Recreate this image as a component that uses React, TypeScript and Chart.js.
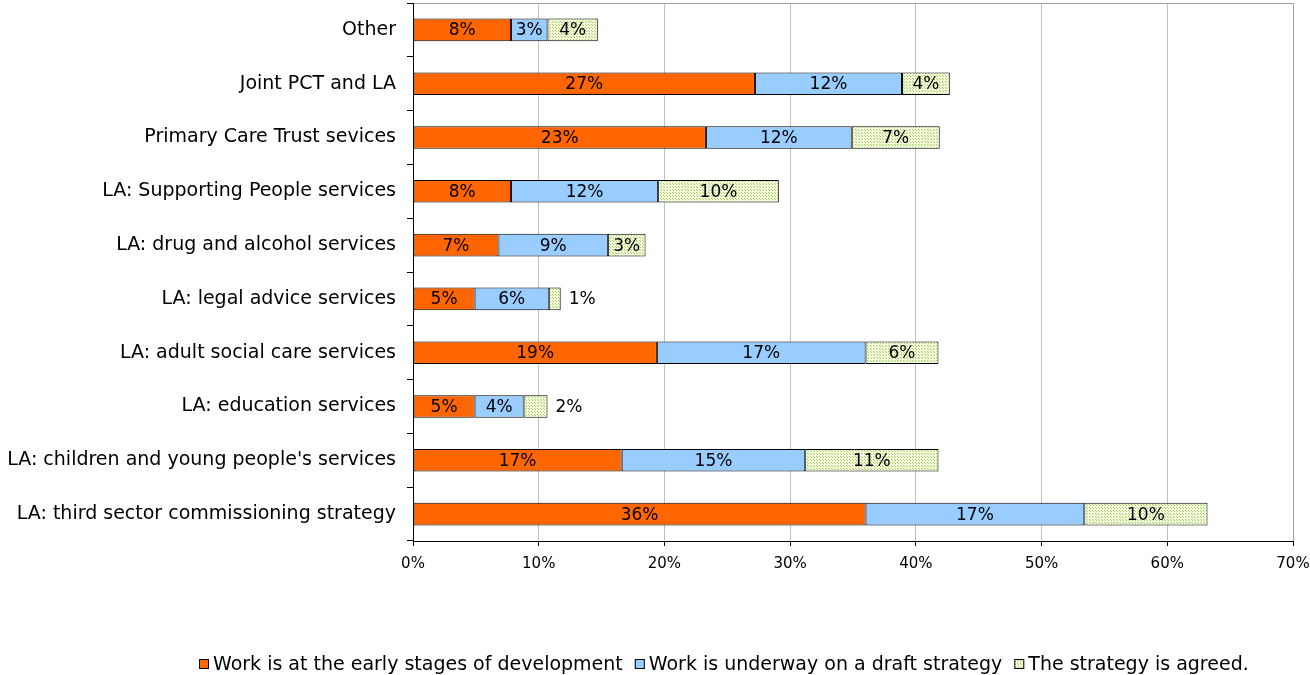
import React, { useEffect, useRef } from 'react';
import { Chart, registerables } from 'chart.js';

Chart.register(...registerables);

const categories = [
  'Other',
  'Joint PCT and LA',
  'Primary Care Trust sevices',
  'LA: Supporting People services',
  'LA: drug and alcohol services',
  'LA: legal advice services',
  'LA: adult social care services',
  'LA: education services',
  "LA: children and young people's services",
  'LA: third sector commissioning strategy',
];

const earlyStage = [7.8, 27.2, 23.3, 7.8, 6.8, 4.9, 19.4, 4.9, 16.6, 36.0];
const draftStrategy = [2.9, 11.7, 11.6, 11.7, 8.7, 5.9, 16.6, 3.9, 14.6, 17.4];
const agreed = [4.0, 3.8, 7.0, 9.6, 3.0, 0.95, 5.8, 1.9, 10.6, 9.8];

const seriesNames = [
  'Work is at the early stages of development',
  'Work is underway on a draft strategy',
  'The strategy is agreed.',
];

const xMin = 0;
const xMax = 70;
const xStep = 10;

const FONT = "'DejaVu Sans', sans-serif";

function makePattern(): CanvasPattern | string {
  const c = document.createElement('canvas');
  c.width = 3;
  c.height = 3;
  const g = c.getContext('2d');
  if (!g) return '#e8f4c8';
  g.fillStyle = '#f4fae0';
  g.fillRect(0, 0, 3, 3);
  g.fillStyle = '#a6d05c';
  g.fillRect(0, 0, 1, 1);
  g.fillRect(1, 1, 1, 1);
  const p = g.createPattern(c, 'repeat');
  return p || '#e8f4c8';
}

const framePlugin = {
  id: 'frame',
  beforeDatasetsDraw(chart: any) {
    const { ctx, chartArea } = chart;
    ctx.save();
    ctx.strokeStyle = '#a0a0a0';
    ctx.lineWidth = 1;
    ctx.beginPath();
    ctx.moveTo(Math.round(chartArea.left), Math.round(chartArea.top) + 0.5);
    ctx.lineTo(Math.round(chartArea.right) + 0.5, Math.round(chartArea.top) + 0.5);
    ctx.lineTo(Math.round(chartArea.right) + 0.5, Math.round(chartArea.bottom));
    ctx.stroke();
    ctx.strokeStyle = '#000';
    ctx.beginPath();
    ctx.moveTo(Math.round(chartArea.left) + 0.5, Math.round(chartArea.top));
    ctx.lineTo(Math.round(chartArea.left) + 0.5, Math.round(chartArea.bottom) + 0.5);
    ctx.lineTo(Math.round(chartArea.right) + 1, Math.round(chartArea.bottom) + 0.5);
    ctx.stroke();
    ctx.restore();
  },
};

const labelPlugin = {
  id: 'barLabels',
  afterDatasetsDraw(chart: any) {
    const { ctx } = chart;
    ctx.save();
    ctx.font = `17px ${FONT}`;
    ctx.fillStyle = '#000';
    ctx.textBaseline = 'middle';
    chart.data.datasets.forEach((ds: any, di: number) => {
      const meta = chart.getDatasetMeta(di);
      meta.data.forEach((bar: any, i: number) => {
        const v = ds.data[i];
        const text = `${Math.round(v)}%`;
        const w = bar.x - bar.base;
        const tw = ctx.measureText(text).width;
        if (tw + 4 <= w) {
          ctx.textAlign = 'center';
          ctx.fillText(text, (bar.x + bar.base) / 2, bar.y + 1);
        } else {
          ctx.textAlign = 'left';
          ctx.fillText(text, bar.x + 8, bar.y + 1);
        }
      });
    });
    ctx.restore();
  },
};

const legendPlugin = {
  id: 'customLegend',
  afterDraw(chart: any) {
    const { ctx } = chart;
    ctx.save();
    ctx.font = `19px ${FONT}`;
    ctx.textBaseline = 'middle';
    ctx.textAlign = 'left';
    const box = 10;
    const gapText = 4;
    const gapItem = 12;
    const items = chart.data.datasets.map((ds: any) => ({
      label: ds.label,
      color: ds.backgroundColor,
      w: ctx.measureText(ds.label).width,
    }));
    const total = items.reduce((s: number, it: any) => s + box + gapText + it.w, 0) + gapItem * (items.length - 1);
    const centerX = 724;
    const cy = 664;
    let x = Math.round(centerX - total / 2);
    items.forEach((it: any) => {
      ctx.fillStyle = it.color;
      ctx.fillRect(x, cy - box / 2, box, box);
      ctx.strokeStyle = '#000';
      ctx.lineWidth = 1;
      ctx.strokeRect(x + 0.5, cy - box / 2 + 0.5, box - 1, box - 1);
      ctx.fillStyle = '#000';
      ctx.fillText(it.label, x + box + gapText, cy + 1);
      x += box + gapText + it.w + gapItem;
    });
    ctx.restore();
  },
};

export default function App() {
  const ref = useRef<HTMLCanvasElement | null>(null);

  useEffect(() => {
    if (!ref.current) return;
    const pattern = makePattern();
    const common = {
      borderColor: '#000',
      borderWidth: 1,
      borderSkipped: false,
      barPercentage: 0.84,
      categoryPercentage: 0.5,
    };
    const chart = new Chart(ref.current, {
      type: 'bar',
      data: {
        labels: categories,
        datasets: [
          { label: seriesNames[0], data: earlyStage, backgroundColor: '#ff6600', ...common },
          { label: seriesNames[1], data: draftStrategy, backgroundColor: '#99ccff', ...common },
          { label: seriesNames[2], data: agreed, backgroundColor: pattern as any, ...common },
        ],
      },
      options: {
        indexAxis: 'y',
        responsive: false,
        animation: false,
        layout: { padding: { top: 3, right: 17, left: 0, bottom: 0 } },
        plugins: {
          legend: { display: false },
          tooltip: { enabled: false },
        },
        scales: {
          x: {
            stacked: true,
            min: xMin,
            max: xMax,
            ticks: {
              stepSize: xStep,
              callback: (v: any) => `${v}%`,
              color: '#000',
              font: { family: FONT, size: 15 },
              padding: 9,
              maxRotation: 0,
            },
            grid: {
              color: '#c0c0c0',
              tickColor: '#000',
              tickLength: 5,
              lineWidth: 1,
            },
            border: { display: true, color: '#000', width: 1 },
            afterFit: (scale: any) => {
              scale.height = 134;
              scale.paddingLeft = 0;
              scale.paddingRight = 0;
            },
          },
          y: {
            stacked: true,
            ticks: {
              color: '#000',
              font: { family: FONT, size: 19 },
              padding: 11,
              autoSkip: false,
            },
            grid: {
              drawOnChartArea: false,
              drawTicks: true,
              tickLength: 6,
              tickColor: '#000',
              offset: true,
            },
            border: { display: true, color: '#000', width: 1 },
            afterFit: (scale: any) => {
              scale.width = 413;
              scale.paddingTop = 0;
              scale.paddingBottom = 0;
            },
          },
        },
      },
      plugins: [framePlugin, labelPlugin, legendPlugin],
    } as any);
    return () => chart.destroy();
  }, []);

  return (
    <div style={{ position: 'fixed', left: 0, top: 0, width: 1310, height: 675, background: '#fff' }}>
      <canvas ref={ref} width={1310} height={675} style={{ display: 'block' }} />
    </div>
  );
}
